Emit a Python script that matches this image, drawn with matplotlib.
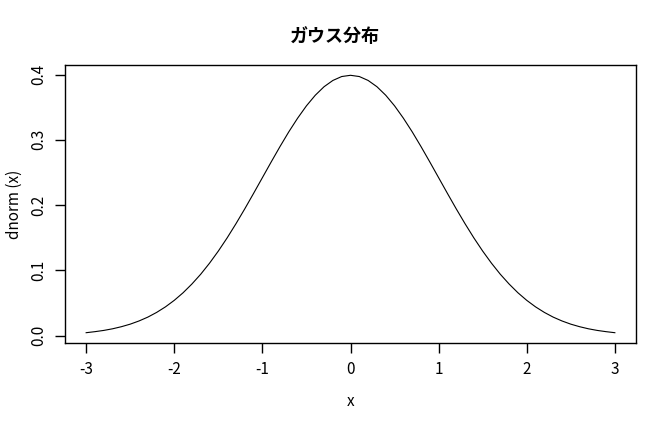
import matplotlib
matplotlib.use("Agg")
import matplotlib.pyplot as plt

plt.rcParams['font.family'] = ['Noto Sans CJK JP', 'DejaVu Sans']

# dnorm(x) lu sur la figure, pas de 0.1
x = [-3.0, -2.9, -2.8, -2.7, -2.6, -2.5, -2.4, -2.3, -2.2, -2.1,
     -2.0, -1.9, -1.8, -1.7, -1.6, -1.5, -1.4, -1.3, -1.2, -1.1,
     -1.0, -0.9, -0.8, -0.7, -0.6, -0.5, -0.4, -0.3, -0.2, -0.1,
     0.0, 0.1, 0.2, 0.3, 0.4, 0.5, 0.6, 0.7, 0.8, 0.9,
     1.0, 1.1, 1.2, 1.3, 1.4, 1.5, 1.6, 1.7, 1.8, 1.9,
     2.0, 2.1, 2.2, 2.3, 2.4, 2.5, 2.6, 2.7, 2.8, 2.9, 3.0]
y = [0.0044, 0.0060, 0.0079, 0.0104, 0.0136, 0.0175, 0.0224, 0.0283, 0.0355, 0.0440,
     0.0540, 0.0656, 0.0790, 0.0940, 0.1109, 0.1295, 0.1497, 0.1714, 0.1942, 0.2179,
     0.2420, 0.2661, 0.2897, 0.3123, 0.3332, 0.3521, 0.3683, 0.3814, 0.3910, 0.3970,
     0.3989, 0.3970, 0.3910, 0.3814, 0.3683, 0.3521, 0.3332, 0.3123, 0.2897, 0.2661,
     0.2420, 0.2179, 0.1942, 0.1714, 0.1497, 0.1295, 0.1109, 0.0940, 0.0790, 0.0656,
     0.0540, 0.0440, 0.0355, 0.0283, 0.0224, 0.0175, 0.0136, 0.0104, 0.0079, 0.0060, 0.0044]
xticks = [-3, -2, -1, 0, 1, 2, 3]
yticks = [0.0, 0.1, 0.2, 0.3, 0.4]

fig = plt.figure(figsize=(6.7, 4.25), dpi=100)
ax = fig.add_axes([65/670, 1 - 343/425, 571/670, 278/425])
ax.plot(x, y, color='black', linewidth=0.8)

# étendue à la R (4 %)
xr = max(x) - min(x)
yr = max(y) - min(y)
ax.set_xlim(min(x) - 0.04*xr, max(x) + 0.04*xr)
ax.set_ylim(min(y) - 0.04*yr, max(y) + 0.04*yr)

ax.set_xticks(xticks)
ax.set_xticklabels([str(t) for t in xticks])
ax.set_yticks(yticks)
ax.set_yticklabels([f'{t:.1f}' for t in yticks], rotation=90, va='center')
ax.tick_params(direction='out', length=7, width=1, labelsize=11, pad=6, colors='black')
for s in ax.spines.values():
    s.set_linewidth(1)

ax.set_xlabel('x', fontsize=11, labelpad=11)
ax.set_ylabel('dnorm (x)', fontsize=11, labelpad=5)
fig.text(0.5, 1 - 36/425, 'ガウス分布', ha='center', va='center', fontsize=13, fontweight='bold')

fig.savefig('out.png', dpi=100)
